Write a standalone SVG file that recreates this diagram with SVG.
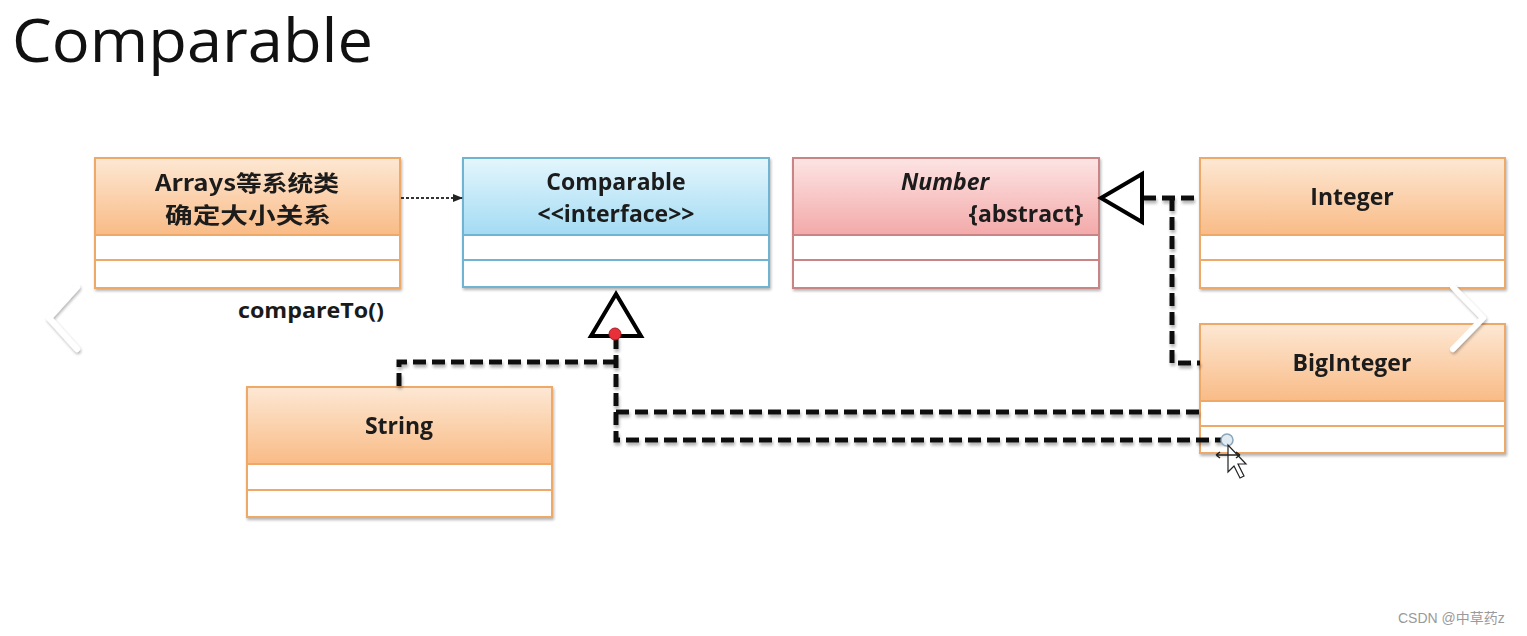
<svg xmlns="http://www.w3.org/2000/svg" width="1527" height="636" viewBox="0 0 1527 636">
<defs>
<linearGradient id="gOrange" x1="0" y1="0" x2="0" y2="1">
<stop offset="0" stop-color="#fde8d4"/><stop offset="1" stop-color="#f9bb86"/>
</linearGradient>
<linearGradient id="gBlue" x1="0" y1="0" x2="0" y2="1">
<stop offset="0" stop-color="#e4f6fd"/><stop offset="1" stop-color="#a3dbf3"/>
</linearGradient>
<linearGradient id="gPink" x1="0" y1="0" x2="0" y2="1">
<stop offset="0" stop-color="#fde4e4"/><stop offset="1" stop-color="#f3a9a9"/>
</linearGradient>
<filter id="sh" x="-5%" y="-5%" width="110%" height="120%">
<feGaussianBlur in="SourceAlpha" stdDeviation="1.5"/>
<feOffset dx="1" dy="2" result="b"/>
<feComponentTransfer><feFuncA type="linear" slope="0.3"/></feComponentTransfer>
<feMerge><feMergeNode/><feMergeNode in="SourceGraphic"/></feMerge>
</filter>
<filter id="lsh" x="-5%" y="-20%" width="110%" height="140%">
<feGaussianBlur in="SourceAlpha" stdDeviation="1.5"/>
<feOffset dx="1" dy="3" result="b"/>
<feComponentTransfer><feFuncA type="linear" slope="0.3"/></feComponentTransfer>
<feMerge><feMergeNode/><feMergeNode in="SourceGraphic"/></feMerge>
</filter>
<marker id="arr" viewBox="0 0 10 10" refX="9" refY="5" markerWidth="10" markerHeight="10" markerUnits="userSpaceOnUse" orient="auto">
<path d="M0,1 L10,5 L0,9 Z" fill="#222"/>
</marker>
</defs>
<style>
text{font-family:"Open Sans","Noto Sans","Noto Sans CJK SC",sans-serif;fill:#1a1a1a}
.lbl{font-size:23px;font-weight:bold;text-anchor:middle}
.cjk{font-family:"Noto Sans CJK SC",sans-serif;font-size:22px;font-weight:bold;text-anchor:middle}
.row{fill:#ffffff}
.o{stroke:#eea868;stroke-width:2}
.b{stroke:#6fb3d2;stroke-width:2}
.p{stroke:#c98585;stroke-width:2}
.dash{fill:none;stroke:#111;stroke-width:5;stroke-dasharray:13 6}
.tri{fill:#fff;stroke:#000;stroke-width:4;stroke-linejoin:miter}
.chev{fill:none;stroke:#ffffff;stroke-width:6;stroke-linecap:round;stroke-linejoin:round}
</style>
<rect width="1527" height="636" fill="#ffffff"/>
<text x="12" y="62" font-size="60" textLength="361" lengthAdjust="spacingAndGlyphs" style="fill:#111">Comparable</text>

<g id="arrays" filter="url(#sh)">
<rect x="95" y="158" width="305" height="77" fill="url(#gOrange)" class="o"/>
<rect x="95" y="235" width="305" height="25" class="row o"/>
<rect x="95" y="260" width="305" height="28" class="row o"/>
<text x="247" y="191" class="cjk" textLength="184" lengthAdjust="spacingAndGlyphs">Arrays等系统类</text>
<text x="248" y="223" class="cjk" textLength="166" lengthAdjust="spacingAndGlyphs">确定大小关系</text>
</g>
<text x="238" y="318" font-size="22" font-weight="bold" textLength="146" lengthAdjust="spacingAndGlyphs">compareTo()</text>

<g id="comparable" filter="url(#sh)">
<rect x="463" y="158" width="306" height="77" fill="url(#gBlue)" class="b"/>
<rect x="463" y="235" width="306" height="25" class="row b"/>
<rect x="463" y="260" width="306" height="27" class="row b"/>
<text x="616" y="190" class="lbl">Comparable</text>
<text x="616" y="222" class="lbl">&lt;&lt;interface&gt;&gt;</text>
</g>

<g id="number" filter="url(#sh)">
<rect x="793" y="158" width="306" height="77" fill="url(#gPink)" class="p"/>
<rect x="793" y="235" width="306" height="25" class="row p"/>
<rect x="793" y="260" width="306" height="28" class="row p"/>
<text x="945" y="190" class="lbl" font-style="italic">Number</text>
<text x="1083" y="222" class="lbl" style="text-anchor:end">{abstract}</text>
</g>

<g id="integer" filter="url(#sh)">
<rect x="1200" y="158" width="305" height="77" fill="url(#gOrange)" class="o"/>
<rect x="1200" y="235" width="305" height="25" class="row o"/>
<rect x="1200" y="260" width="305" height="28" class="row o"/>
<text x="1352" y="205" class="lbl">Integer</text>
</g>

<g id="biginteger" filter="url(#sh)">
<rect x="1200" y="324" width="305" height="77" fill="url(#gOrange)" class="o"/>
<rect x="1200" y="401" width="305" height="25" class="row o"/>
<rect x="1200" y="426" width="305" height="27" class="row o"/>
<text x="1352" y="371" class="lbl">BigInteger</text>
</g>

<g id="string" filter="url(#sh)">
<rect x="247" y="387" width="305" height="77" fill="url(#gOrange)" class="o"/>
<rect x="247" y="464" width="305" height="26" class="row o"/>
<rect x="247" y="490" width="305" height="27" class="row o"/>
<text x="399" y="434" class="lbl">String</text>
</g>

<g id="connectors">
<line x1="401" y1="198" x2="462" y2="198" stroke="#333" stroke-width="2" stroke-dasharray="3 2" marker-end="url(#arr)"/>
<g filter="url(#lsh)">
<path class="dash" d="M399,386 V362 H616"/>
<path class="dash" d="M616,336 V440 H1226"/>
<path class="dash" d="M616,412 H1200"/>
<path class="dash" d="M1143,198 H1200"/>
<path class="dash" d="M1172,198 V363 H1200"/>
</g>
<polygon class="tri" points="616,294 591,336 641,336"/>
<polygon class="tri" points="1101,198 1142,174 1142,222"/>
<circle cx="615" cy="334" r="6" fill="#e8303a" stroke="#b01820" stroke-width="1"/>
</g>

<circle cx="1227" cy="440" r="6" fill="#dfeaf2" stroke="#8aa6bc" stroke-width="1.5"/>
<path d="M1228,445 L1228,472 L1234,466 L1240,478 L1244,476 L1238,464 L1246,464 Z" fill="#fff" stroke="#222" stroke-width="1.2"/>
<path d="M1216,455 H1240 M1216,455 l4,-3 M1216,455 l4,3 M1240,455 l-4,-3 M1240,455 l-4,3" stroke="#222" stroke-width="1.5" fill="none"/>

<g filter="url(#sh)">
<path class="chev" d="M77,287 L49,318 L77,349"/>
<path class="chev" d="M1453,287 L1483,318 L1453,349"/>
</g>
<text x="1398" y="623" font-size="14" style="fill:#9a9a9a;font-family:'Liberation Sans','Noto Sans CJK SC',sans-serif">CSDN @中草药z</text>
</svg>
